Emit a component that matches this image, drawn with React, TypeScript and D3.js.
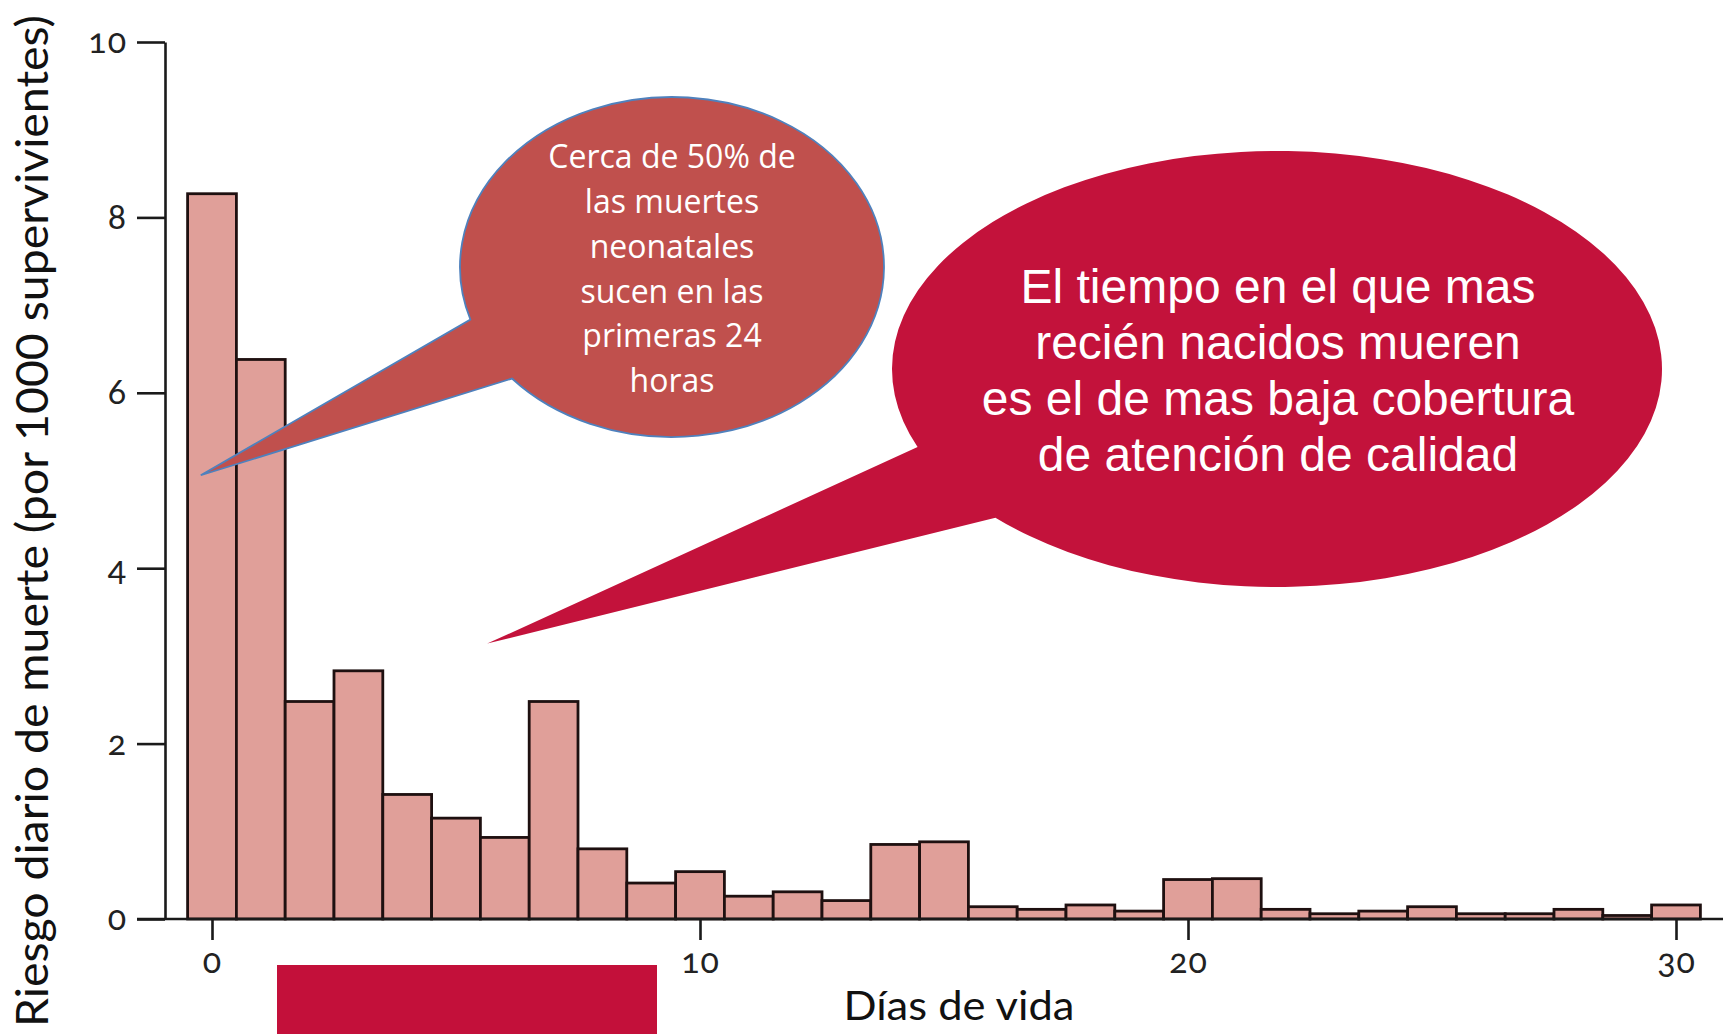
import React, { useRef, useEffect } from "react";
import * as d3 from "d3";

// Daily risk of death per 1000 survivors, by day of life
export const days = [
  0, 1, 2, 3, 4, 5, 6, 7, 8, 9, 10, 11, 12, 13, 14, 15, 16, 17, 18, 19, 20,
  21, 22, 23, 24, 25, 26, 27, 28, 29, 30,
];
export const risk = [
  8.27, 6.38, 2.48, 2.83, 1.42, 1.15, 0.93, 2.48, 0.8, 0.41, 0.54, 0.26, 0.31,
  0.21, 0.85, 0.88, 0.14, 0.11, 0.16, 0.09, 0.45, 0.46, 0.11, 0.06, 0.09,
  0.14, 0.06, 0.06, 0.11, 0.04, 0.16,
];
export const yTicks = [0, 2, 4, 6, 8, 10];
export const xTicks = [0, 10, 20, 30];

const bubbleSmall = [
  "Cerca de 50% de",
  "las muertes",
  "neonatales",
  "sucen en las",
  "primeras 24",
  "horas",
];
const bubbleBig = [
  "El tiempo en el que mas",
  "recién nacidos mueren",
  "es el de mas baja cobertura",
  "de atención de calidad",
];

const W = 1723;
const H = 1034;

const x = d3.scaleLinear().domain([0, 30]).range([212, 1676]);
const y = d3.scaleLinear().domain([0, 10]).range([919, 42]);

// speech bubble: ellipse outline joined with a tail pointing to tip
function bubblePath(cx, cy, rx, ry, a1, a2, tip) {
  const p = (a) => {
    const t = (a * Math.PI) / 180;
    return [cx + rx * Math.cos(t), cy + ry * Math.sin(t)];
  };
  const [x1, y1] = p(a1);
  const [x2, y2] = p(a2);
  return `M${x1},${y1} A${rx},${ry} 0 1 1 ${x2},${y2} L${tip[0]},${tip[1]} Z`;
}

const tickFont = (sel) =>
  sel
    .attr("fill", "#222")
    .style("font-family", "Lato, 'Noto Sans', sans-serif")
    .style("font-size", "34px")
    .style("letter-spacing", "1px")
    .style("font-feature-settings", '"onum" 1')
    .style("font-variant-numeric", "oldstyle-nums");

const App = () => {
  const yAxisRef = useRef(null);
  const xAxisRef = useRef(null);

  useEffect(() => {
    const ya = d3.select(yAxisRef.current);
    ya.call(
      d3.axisLeft(y).tickValues(yTicks).tickSize(28).tickSizeOuter(0).tickPadding(10)
    );
    ya.selectAll("path, line").attr("stroke", "#1a1a1a").attr("stroke-width", 2.6);
    tickFont(ya.selectAll("text"));

    const xa = d3.select(xAxisRef.current);
    xa.call(d3.axisBottom(x).tickValues(xTicks).tickSize(21).tickPadding(9));
    xa.select(".domain").remove();
    xa.selectAll("line").attr("stroke", "#1a1a1a").attr("stroke-width", 2.6);
    tickFont(xa.selectAll("text"));
  }, []);

  const tip1 = [x(-0.23), y(5.06)];
  const tip2 = [x(5.64), y(3.14)];

  return (
    <svg
      width={W}
      height={H}
      style={{ position: "absolute", left: 0, top: 0, background: "#fff" }}
    >
      {/* bars */}
      <g>
        {days.map((d, i) => (
          <rect
            key={d}
            x={x(d - 0.5)}
            y={y(risk[i])}
            width={x(d + 0.5) - x(d - 0.5)}
            height={y(0) - y(risk[i])}
            fill="#e09f99"
            stroke="#1e1010"
            strokeWidth={2.8}
          />
        ))}
      </g>

      {/* baseline */}
      <line x1={137} x2={W} y1={y(0)} y2={y(0)} stroke="#1a1a1a" strokeWidth={2.6} />
      <g ref={yAxisRef} transform={`translate(165,0)`} />
      <g ref={xAxisRef} transform={`translate(0,${y(0)})`} />

      {/* red bar under the axis */}
      <rect x={277} y={965} width={380} height={H - 965} fill="#c3103a" />

      {/* axis titles */}
      <text
        transform="translate(33,521) rotate(-90)"
        textAnchor="middle"
        dy="0.35em"
        fontFamily="Lato, 'Open Sans', sans-serif"
        fontSize={44}
        textLength={1012}
        lengthAdjust="spacingAndGlyphs"
        fill="#111"
      >
        Riesgo diario de muerte (por 1000 supervivientes)
      </text>
      <text
        x={959}
        y={1020}
        textAnchor="middle"
        fontFamily="Lato, 'Open Sans', sans-serif"
        fontSize={40}
        textLength={231}
        lengthAdjust="spacingAndGlyphs"
        fill="#111"
      >
        Días de vida
      </text>

      {/* small callout */}
      <path
        d={bubblePath(672, 267, 212, 170, 162, 139, tip1)}
        fill="#c0504d"
        stroke="#4f81bd"
        strokeWidth={1.8}
      />
      <g fontFamily="'Open Sans', sans-serif" fontSize={32} fill="#fff" textAnchor="middle">
        {bubbleSmall.map((t, i) => (
          <text key={t} x={672} y={157 + i * 44.8} dy="0.35em">
            {t}
          </text>
        ))}
      </g>

      {/* big callout */}
      <path d={bubblePath(1277, 369, 385, 218, 159, 137, tip2)} fill="#c3123b" />
      <g
        fontFamily="'Liberation Sans', Arial, sans-serif"
        fontSize={48}
        fill="#fff"
        textAnchor="middle"
      >
        {bubbleBig.map((t, i) => (
          <text key={t} x={1278} y={286 + i * 56} dy="0.35em">
            {t}
          </text>
        ))}
      </g>
    </svg>
  );
};

export default App;
